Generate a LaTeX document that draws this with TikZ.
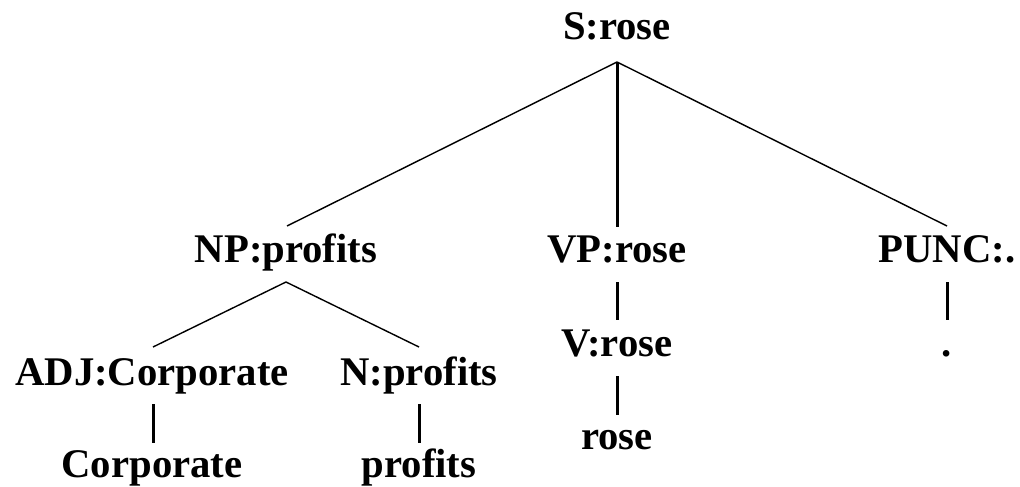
\documentclass[tikz,border=0pt]{standalone}
\usepackage{fontspec}
\setmainfont{Liberation Serif}
\usetikzlibrary{calc}
\begin{document}
\begin{tikzpicture}[x=1pt,y=-1pt,
  lbl/.style={anchor=base,inner sep=0pt,font=\fontsize{40.7}{48}\selectfont\bfseries},
  diag/.style={line width=1.4pt},
  vert/.style={line width=3pt}]
\useasboundingbox (0,0) rectangle (1020,487);
\node[lbl] (S) at (617,40) {S:rose};
\node[lbl] (NP) at (286,262) {NP:profits};
\node[lbl] (VP) at (617,262) {VP:rose};
\node[lbl] (PU) at (947,262) {PUNC:.};
\node[lbl] (ADJ) at (152,385) {ADJ:Corporate};
\node[lbl] (N) at (419,385) {N:profits};
\node[lbl] (V) at (617,356) {V:rose};
\node[lbl] (dot) at (947,356) {.};
\node[lbl] (rose) at (617,449) {rose};
\node[lbl] (corp) at (152,477) {Corporate};
\node[lbl] (prof) at (419,477) {profits};
\draw[diag] ($(S.base)+(0,22)$) -- ($(NP.base)+(1,-36)$);
\draw[vert] ($(S.base)+(0,22)$) -- ($(VP.base)+(0,-35)$);
\draw[diag] ($(S.base)+(0,22)$) -- ($(PU.base)+(0,-36)$);
\draw[diag] ($(NP.base)+(0,20)$) -- ($(ADJ.base)+(1,-38)$);
\draw[diag] ($(NP.base)+(0,20)$) -- ($(N.base)+(0,-38)$);
\draw[vert] ($(ADJ.base)+(1,19)$) -- ($(corp.base)+(1,-34)$);
\draw[vert] ($(N.base)+(0,19)$) -- ($(prof.base)+(0,-34)$);
\draw[vert] ($(VP.base)+(0,20)$) -- ($(V.base)+(0,-36)$);
\draw[vert] ($(V.base)+(0,20)$) -- ($(rose.base)+(0,-34)$);
\draw[vert] ($(PU.base)+(0,20)$) -- ($(dot.base)+(0,-36)$);
\end{tikzpicture}
\end{document}
